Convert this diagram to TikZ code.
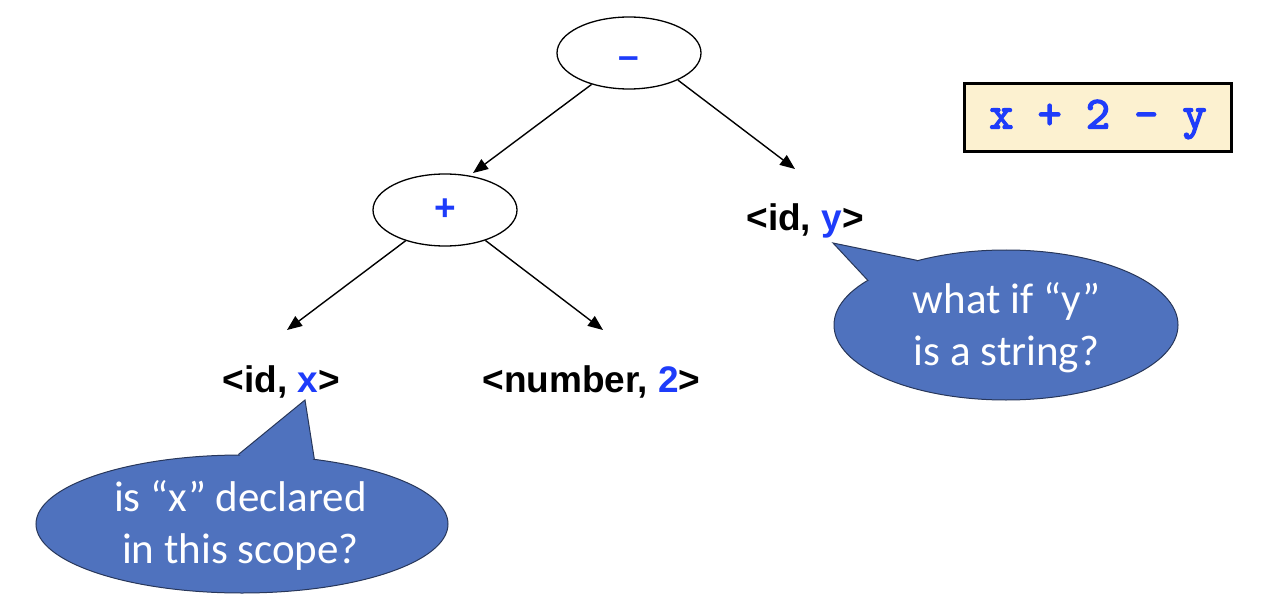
\documentclass[tikz,border=0pt]{standalone}
\usepackage{fontspec}
\setmainfont{Liberation Sans}
\newfontfamily\calloutfont{Carlito}
\newfontfamily\codefont[FakeBold=3]{lmmono10-regular.otf}
\usetikzlibrary{shapes.geometric,arrows.meta,calc}
\definecolor{codeblue}{RGB}{30,60,250}
\definecolor{bubblefill}{RGB}{79,114,190}
\definecolor{bubbleline}{RGB}{40,55,90}
\definecolor{boxfill}{RGB}{252,241,208}
\begin{document}
\begin{tikzpicture}[x=1pt,y=-1pt,
  opnode/.style={ellipse,draw,line width=1.3pt,minimum width=144pt,minimum height=72pt,inner sep=0pt,
    font=\fontsize{37}{44}\selectfont\bfseries,text=codeblue},
  leaf/.style={font=\fontsize{37}{44}\selectfont\bfseries,inner sep=0pt,anchor=base},
  edge/.style={-{Triangle[length=15pt,width=12pt]},line width=1.4pt},
  bubble/.style={ellipse,draw=bubbleline,line width=1pt,fill=bubblefill,inner sep=0pt},
  bubbletext/.style={text=white,align=center,inner sep=0pt,anchor=base,
    font=\calloutfont\fontsize{43}{52}\selectfont},
  tailfill/.style={fill=bubblefill},
  tailline/.style={draw=bubbleline,line width=1pt,line join=miter},
  codebox/.style={draw,line width=3.5pt,fill=boxfill,minimum width=267pt,minimum height=68pt,inner sep=0pt,
    font=\codefont\fontsize{46}{50}\selectfont,text=codeblue}
]
\useasboundingbox (0,0) rectangle (1273,612);

% tree nodes
\node[opnode,text height=32pt,text depth=0pt] (minus) at (629,53) {–};
\node[opnode] (plus) at (445,210) {+};
\node[leaf] (idy) at (805,230) {<id, \textcolor{codeblue}{y}>};
\node[leaf] (idx) at (281.5,392) {<id, \textcolor{codeblue}{x}>};
\node[leaf] (num) at (591.5,392) {<number, \textcolor{codeblue}{2}>};

% arrow end points just above the leaves
\coordinate (tipplus) at (473,173);
\coordinate (tipidy) at (795,169);
\coordinate (tipidx) at (287,330);
\coordinate (tipnum) at (603,330);

\draw[edge] (minus.220) -- (tipplus);
\draw[edge] (minus.331) -- (tipidy);
\draw[edge] (plus.218) -- (tipidx);
\draw[edge] (plus.323) -- (tipnum);

% expression box
\node[codebox,text height=30pt,text depth=8pt] (expr) at (1098,117.5) {x + 2 – y};

% right callout
\node[bubble,minimum width=344pt,minimum height=150pt] (bubR) at (1006,325) {};
\coordinate (tailR) at (833,243);
\fill[tailfill] (tailR) -- (bubR.144.5) -- ($(bubR.144.5)!0.5!(bubR.162)+(20,12)$) -- (bubR.162) -- cycle;
\draw[tailline] (bubR.144.5) -- (tailR) -- (bubR.162);
\node[bubbletext] (txtR) at (1006.5,365) {what if “y”\\is a string?};

% left callout
\node[bubble,minimum width=412pt,minimum height=138pt] (bubL) at (242,524) {};
\coordinate (tailL) at (305,400);
\fill[tailfill] (tailL) -- (bubL.93) -- ($(bubL.93)!0.5!(bubL.42)+(0,18)$) -- (bubL.42) -- cycle;
\draw[tailline] (bubL.93) -- (tailL) -- (bubL.42);
\node[bubbletext] (txtL) at (240.5,563) {is “x” declared\\in this scope?};
\end{tikzpicture}
\end{document}
